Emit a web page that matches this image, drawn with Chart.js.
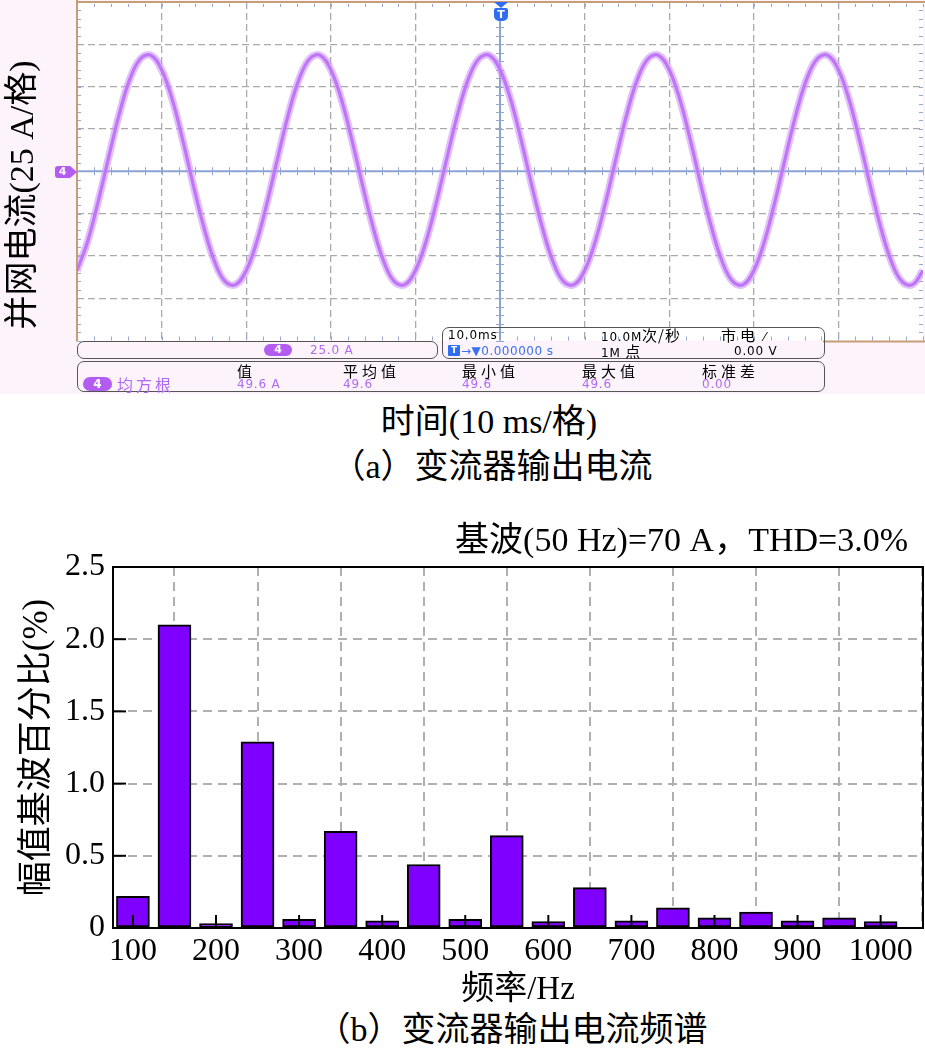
<!DOCTYPE html>
<html><head><meta charset="utf-8">
<script src="https://cdn.jsdelivr.net/npm/chart.js@4.4.0/dist/chart.umd.min.js"></script>
<style>
html,body{margin:0;padding:0;background:#fff;}
body{width:925px;height:1048px;position:relative;overflow:hidden;font-family:'Liberation Serif','Noto Sans CJK SC',serif;color:#000;}
.t{position:absolute;white-space:nowrap;line-height:1;}
.c{transform:translate(-50%,-50%);}
#scopebg{position:absolute;left:0;top:0;width:925px;height:394px;background:#fcf3fb;}
#c1{position:absolute;left:0;top:0;}
#c2{position:absolute;left:0;top:490px;}
.box{position:absolute;border:1.5px solid #555;border-radius:7px;box-sizing:border-box;}
.ui{position:absolute;white-space:nowrap;font-family:'DejaVu Sans','Noto Sans CJK SC',sans-serif;font-size:12px;line-height:1;letter-spacing:0.8px;transform:translateY(-50%);}
.cj{font-family:'Noto Sans CJK SC',sans-serif;font-size:15px;letter-spacing:4px;}
.pur{color:#b06af2;}
.blu{color:#3a72ee;}
.pill{position:absolute;background:#b35cf2;color:#fff;border-radius:8px;font-family:'DejaVu Sans',sans-serif;font-weight:bold;font-size:12px;text-align:center;}
</style></head>
<body>
<div id="scopebg"></div>
<canvas id="c1" width="925" height="345"></canvas>

<!-- trigger and channel markers -->
<div style="position:absolute;left:494px;top:2px;width:0;height:0;border-left:7px solid transparent;border-right:7px solid transparent;border-top:6px solid #2f6fef;"></div>
<div class="t" style="left:494px;top:8px;width:14px;height:13px;background:#2f6fef;border-radius:2px 2px 5px 5px;color:#fff;font-family:'DejaVu Sans',sans-serif;font-weight:bold;font-size:11px;line-height:13px;text-align:center;">T</div>
<div class="t" style="left:55px;top:166px;width:15px;height:12px;background:#b35cf2;border-radius:3px 0 0 3px;color:#fff;font-family:'DejaVu Sans',sans-serif;font-weight:bold;font-size:11px;line-height:12px;text-align:center;">4</div>
<div style="position:absolute;left:70px;top:166px;width:0;height:0;border-top:6px solid transparent;border-bottom:6px solid transparent;border-left:7px solid #b35cf2;"></div>

<!-- info boxes -->
<div class="box" style="left:77px;top:341px;width:361px;height:18px;"></div>
<div class="pill" style="left:264px;top:344px;width:28px;height:12px;line-height:12px;font-size:11px;">4</div>
<div class="ui pur" style="left:310px;top:350px;">25.0 A</div>

<div class="box" style="left:442px;top:327px;width:383px;height:32px;"></div>
<div class="ui" style="left:448px;top:335px;">10.0ms</div>
<div class="ui" style="left:601px;top:335px;">10.0M<span class="cj" style="letter-spacing:1px">次/秒</span></div>
<div class="ui" style="left:721px;top:335px;"><span class="cj">市电</span> ⁄</div>
<div class="t" style="left:448px;top:345px;width:12px;height:11px;background:#2f6fef;border-radius:1px;color:#fff;font-family:'DejaVu Sans',sans-serif;font-weight:bold;font-size:9px;line-height:11px;text-align:center;">T</div>
<div class="ui blu" style="left:461px;top:351px;letter-spacing:0.5px;">→▼0.000000 s</div>
<div class="ui" style="left:601px;top:351px;">1M <span class="cj">点</span></div>
<div class="ui" style="left:734px;top:351px;">0.00 V</div>

<div class="box" style="left:77px;top:361px;width:748px;height:31px;"></div>
<div class="ui cj" style="left:237px;top:370px;">值</div>
<div class="ui cj" style="left:343px;top:370px;">平均值</div>
<div class="ui cj" style="left:462px;top:370px;">最小值</div>
<div class="ui cj" style="left:582px;top:370px;">最大值</div>
<div class="ui cj" style="left:702px;top:370px;">标准差</div>
<div class="pill" style="left:83px;top:377px;width:29px;height:14px;line-height:14px;">4</div>
<div class="ui cj pur" style="left:117px;top:384px;font-size:16px;letter-spacing:3px;">均方根</div>
<div class="ui pur" style="left:237px;top:384px;">49.6 A</div>
<div class="ui pur" style="left:343px;top:384px;">49.6</div>
<div class="ui pur" style="left:462px;top:384px;">49.6</div>
<div class="ui pur" style="left:582px;top:384px;">49.6</div>
<div class="ui pur" style="left:702px;top:384px;">0.00</div>

<!-- captions for (a) -->
<div class="t" style="left:22px;top:195px;font-size:34px;transform:translate(-50%,-50%) rotate(-90deg);">并网电流(25 A/格)</div>
<div class="t c" style="left:489px;top:422px;font-size:34px;">时间(10 ms/格)</div>
<div class="t c" style="left:492px;top:467px;font-size:34px;">（a）变流器输出电流</div>

<canvas id="c2" width="925" height="520"></canvas>
<div class="t" style="right:17px;top:540px;font-size:34px;transform:translateY(-50%);">基波(50 Hz)=70 A，THD=3.0%</div>
<div class="t c" style="left:512px;top:1030px;font-size:34px;">（b）变流器输出电流频谱</div>

<script>
// ---------- (a) oscilloscope waveform ----------
const timeMs = [-50,-48.75,-47.5,-46.25,-45,-43.75,-42.5,-41.25,-40,-38.75,-37.5,-36.25,-35,-33.75,-32.5,-31.25,
  -30,-28.75,-27.5,-26.25,-25,-23.75,-22.5,-21.25,-20,-18.75,-17.5,-16.25,-15,-13.75,-12.5,-11.25,
  -10,-8.75,-7.5,-6.25,-5,-3.75,-2.5,-1.25,0,1.25,2.5,3.75,5,6.25,7.5,8.75,
  10,11.25,12.5,13.75,15,16.25,17.5,18.75,20,21.25,22.5,23.75,25,26.25,27.5,28.75,
  30,31.25,32.5,33.75,35,36.25,37.5,38.75,40,41.25,42.5,43.75,45,46.25,47.5,48.75,50];
const currentA = [
  -58.7,-41.6,-18.0,8.4,33.9,54.4,66.5,68.5,60.0,42.5,18.4,-8.2,-33.2,-53.2,-65.1,-67.0,
  -58.7,-41.6,-18.0,8.4,33.9,54.4,66.5,68.5,60.0,42.5,18.4,-8.2,-33.2,-53.2,-65.1,-67.0,
  -58.7,-41.6,-18.0,8.4,33.9,54.4,66.5,68.5,60.0,42.5,18.4,-8.2,-33.2,-53.2,-65.1,-67.0,
  -58.7,-41.6,-18.0,8.4,33.9,54.4,66.5,68.5,60.0,42.5,18.4,-8.2,-33.2,-53.2,-65.1,-67.0,
  -58.7,-41.6,-18.0,8.4,33.9,54.4,66.5,68.5,60.0,42.5,18.4,-8.2,-33.2,-53.2,-65.1,-67.0,
  -58.7];

// ---------- (b) harmonic spectrum ----------
const harmonicFreqs = [100,150,200,250,300,350,400,450,500,550,600,650,700,750,800,850,900,950,1000];
const harmonicPct   = [0.22,2.10,0.03,1.29,0.06,0.67,0.05,0.44,0.06,0.64,0.045,0.28,0.05,0.14,0.07,0.11,0.05,0.07,0.045];
const xTickValues = [100,200,300,400,500,600,700,800,900,1000];
const yTickLabels = ['0','0.5','1.0','1.5','2.0','2.5'];

const SERIF = "'Liberation Serif','Noto Sans CJK SC',serif";

// ---------- oscilloscope chart ----------
const wave = timeMs.map((t,i)=>({x:t,y:currentA[i]}));
const scopePlugin = {
  id:'scope',
  beforeDraw(chart){
    const {ctx, chartArea:a} = chart;
    ctx.save(); ctx.fillStyle='#ffffff';
    ctx.fillRect(a.left,a.top,a.right-a.left,a.bottom-a.top); ctx.restore();
  },
  beforeDatasetsDraw(chart){
    const {ctx, chartArea:a, scales:{x,y}} = chart;
    const x0 = x.getPixelForValue(0), y0 = y.getPixelForValue(0);
    ctx.save();
    // center axes
    ctx.strokeStyle='#8aa3d6'; ctx.lineWidth=2;
    ctx.beginPath(); ctx.moveTo(x0,a.top+18); ctx.lineTo(x0,a.bottom); ctx.stroke();
    ctx.beginPath(); ctx.moveTo(a.left,y0); ctx.lineTo(a.right,y0); ctx.stroke();
    // minor graticule marks
    ctx.strokeStyle='#93a7cf'; ctx.lineWidth=1;
    const ys = (y.max-y.min)/40, xs = (x.max-x.min)/50;
    for (let v=y.min; v<=y.max+1e-9; v+=ys){
      const py = Math.round(y.getPixelForValue(v))+0.5;
      ctx.beginPath(); ctx.moveTo(a.left+1,py); ctx.lineTo(a.left+4,py); ctx.stroke();
      ctx.beginPath(); ctx.moveTo(a.right-4,py); ctx.lineTo(a.right,py); ctx.stroke();
      if (py > a.top+20){ ctx.beginPath(); ctx.moveTo(x0-4,py); ctx.lineTo(x0+4,py); ctx.stroke(); }
    }
    for (let v=x.min; v<=x.max+1e-9; v+=xs){
      const px = Math.round(x.getPixelForValue(v))+0.5;
      ctx.beginPath(); ctx.moveTo(px,a.top+2); ctx.lineTo(px,a.top+5); ctx.stroke();
      ctx.beginPath(); ctx.moveTo(px,a.bottom-4); ctx.lineTo(px,a.bottom); ctx.stroke();
      ctx.beginPath(); ctx.moveTo(px,y0-4); ctx.lineTo(px,y0+4); ctx.stroke();
    }
    // frame of the screen
    ctx.strokeStyle='#c79d77'; ctx.lineWidth=2;
    ctx.beginPath(); ctx.moveTo(a.left,0); ctx.lineTo(a.left,a.bottom+1); ctx.stroke();
    ctx.beginPath(); ctx.moveTo(a.left,a.top); ctx.lineTo(chart.width,a.top); ctx.stroke();
    ctx.beginPath(); ctx.moveTo(823,a.bottom+1); ctx.lineTo(chart.width,a.bottom+1); ctx.stroke();
    ctx.restore();
  }
};
const gridCol = (edge)=> (c)=> (c.tick && (c.tick.value===0 || Math.abs(c.tick.value)===edge)) ? 'rgba(0,0,0,0)' : '#aaaaaa';
new Chart(document.getElementById('c1'), {
  type:'line',
  data:{datasets:[
    {data:wave, borderColor:'rgba(206,150,250,0.6)', borderWidth:7.5, pointRadius:0, tension:0.4, fill:false},
    {data:wave, borderColor:'#a548f2', borderWidth:3.2, pointRadius:0, tension:0.4, fill:false}
  ]},
  options:{
    responsive:false, animation:false, events:[],
    layout:{padding:{left:77,right:2,top:2,bottom:4.5}},
    plugins:{legend:{display:false},tooltip:{enabled:false}},
    scales:{
      x:{type:'linear',min:-50,max:50,ticks:{display:false,stepSize:10},
         grid:{color:gridCol(50),lineWidth:1.3,drawTicks:false},
         border:{display:false,dash:[7,4]},
         afterFit(s){s.height=0;}},
      y:{type:'linear',min:-100,max:100,ticks:{display:false,stepSize:25},
         grid:{color:gridCol(100),lineWidth:1.3,drawTicks:false},
         border:{display:false,dash:[7,4]},
         afterFit(s){s.width=0;}}
    }
  },
  plugins:[scopePlugin]
});

// ---------- spectrum chart ----------
const framePlugin = {
  id:'frame',
  afterDatasetsDraw(chart){
    const {ctx, chartArea:a, scales:{x,y}} = chart;
    ctx.save(); ctx.strokeStyle='#000'; ctx.lineWidth=2;
    x.ticks.forEach(t=>{const px=x.getPixelForValue(t.value);
      ctx.beginPath(); ctx.moveTo(px,a.bottom); ctx.lineTo(px,a.bottom-13); ctx.stroke();});
    y.ticks.forEach(t=>{const py=y.getPixelForValue(t.value);
      ctx.beginPath(); ctx.moveTo(a.left,py); ctx.lineTo(a.left+13,py); ctx.stroke();});
    ctx.strokeRect(a.left,a.top,a.right-a.left,a.bottom-a.top);
    ctx.restore();
  }
};
new Chart(document.getElementById('c2'), {
  type:'bar',
  data:{datasets:[{
    data:harmonicFreqs.map((f,i)=>({x:f,y:harmonicPct[i]})),
    backgroundColor:'#8000ff', borderColor:'#000000', borderWidth:2, borderSkipped:false,
    barThickness:33
  }]},
  options:{
    responsive:false, animation:false, events:[],
    layout:{padding:{left:0,right:2,top:77,bottom:0}},
    plugins:{legend:{display:false},tooltip:{enabled:false}},
    scales:{
      x:{type:'linear',min:76,max:1051,offset:false,
         afterBuildTicks(s){s.ticks = xTickValues.map(v=>({value:v}));},
         ticks:{font:{family:SERIF,size:32},color:'#000',padding:4,maxRotation:0,autoSkip:false,
                callback:(v)=>String(v)},
         grid:{color:'#b0b0b0',lineWidth:2,drawTicks:false},
         border:{display:false,dash:[9,6]},
         title:{display:true,text:'频率/Hz',font:{family:SERIF,size:33},color:'#000',padding:{top:0,bottom:0}},
         afterFit(s){s.height=82;}},
      y:{type:'linear',min:0,max:2.5,
         ticks:{stepSize:0.5,font:{family:SERIF,size:32},color:'#000',padding:8,
                callback:(v,i)=>yTickLabels[i]},
         grid:{color:'#b0b0b0',lineWidth:2,drawTicks:false},
         border:{display:false,dash:[9,6]},
         title:{display:true,text:'幅值基波百分比(%)',font:{family:SERIF,size:35},color:'#000',padding:{top:17,bottom:0}},
         afterFit(s){s.width=113;}}
    }
  },
  plugins:[framePlugin]
});
</script>
</body></html>
